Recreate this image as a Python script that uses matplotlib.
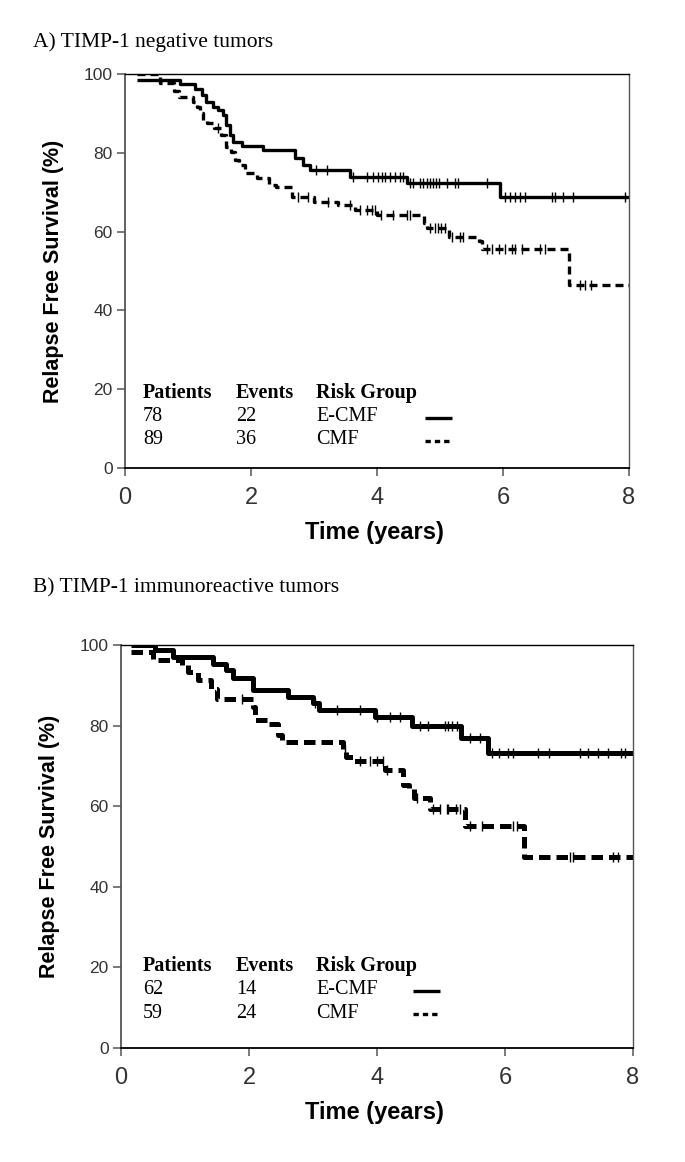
import numpy as np
import matplotlib
matplotlib.use("Agg")
import matplotlib.pyplot as plt

# Panel A: TIMP-1 negative tumors
a_ecmf_t = [0.19, 0.87, 1.11, 1.22, 1.29, 1.40, 1.48, 1.56, 1.61, 1.66, 1.72, 1.85, 2.19,
            2.70, 2.83, 2.94, 3.57, 4.47, 5.95]
a_ecmf_s = [98.5, 97.5, 96.1, 94.7, 93.0, 91.7, 90.9, 89.6, 87.0, 84.5, 82.8, 81.7, 80.7,
            78.7, 76.9, 75.6, 73.9, 72.3, 68.9]
a_ecmf_cens = [3.03, 3.21, 3.62, 3.84, 3.94, 4.02, 4.08, 4.13, 4.21, 4.29, 4.36, 4.42,
               4.52, 4.57, 4.68, 4.73, 4.79, 4.84, 4.89, 4.94, 4.98, 5.11, 5.24, 5.29, 5.75,
               6.03, 6.11, 6.19, 6.27, 6.35, 6.78, 6.83, 6.95, 7.11, 7.94]

a_cmf_t = [0.19, 0.55, 0.77, 0.85, 1.08, 1.14, 1.19, 1.24, 1.30, 1.42, 1.53, 1.61, 1.69,
           1.75, 1.81, 1.90, 2.10, 2.28, 2.40, 2.65, 3.00, 3.38, 3.65, 4.00, 4.74, 4.79,
           5.14, 5.62, 5.66, 7.04]
a_cmf_s = [100, 97.8, 95.6, 94.2, 93.0, 91.7, 90.0, 88.3, 87.6, 86.3, 84.5, 81.5, 80.3,
           78.2, 76.9, 74.8, 73.6, 71.8, 71.3, 68.9, 67.6, 66.8, 65.5, 64.2, 62.2, 60.9,
           58.7, 57.5, 55.5, 46.4]
a_cmf_cens = [1.48, 2.75, 2.91, 3.23, 3.57, 3.73, 3.84, 3.92, 3.97, 4.07, 4.26, 4.47, 4.52,
              4.84, 4.92, 4.97, 5.02, 5.08, 5.19, 5.32, 5.37, 5.74, 5.82, 5.93, 6.03, 6.14,
              6.19, 6.30, 6.59, 6.67, 7.22, 7.30, 7.40]

# Panel B: TIMP-1 immunoreactive tumors
b_ecmf_t = [0.15, 0.53, 0.82, 1.44, 1.64, 1.75, 2.07, 2.61, 3.00, 3.10, 3.97, 4.54, 5.32, 5.74]
b_ecmf_s = [100, 98.8, 96.9, 95.4, 93.8, 91.7, 88.8, 87.0, 85.5, 83.9, 82.2, 79.9, 76.9, 73.3]
b_ecmf_cens = [3.03, 3.37, 3.73, 4.00, 4.20, 4.36, 4.67, 4.80, 5.06, 5.11, 5.17, 5.25,
               5.45, 5.61, 5.79, 5.90, 6.05, 6.13, 6.52, 6.68, 7.17, 7.30, 7.46, 7.61,
               7.82, 7.88]

b_cmf_t = [0.15, 0.50, 0.95, 1.05, 1.20, 1.40, 1.50, 2.07, 2.10, 2.28, 2.45, 2.52, 3.47,
           3.52, 3.62, 4.12, 4.41, 4.50, 4.58, 4.83, 5.375, 6.30]
b_cmf_s = [98.3, 96.4, 95.0, 93.4, 91.3, 89.2, 86.5, 84.7, 81.4, 80.5, 77.7, 76.0, 74.0,
           72.3, 71.1, 69.0, 65.3, 64.5, 62.0, 59.2, 55.0, 47.5]
b_cmf_cens = [1.89, 3.50, 3.73, 3.89, 4.00, 4.10, 4.15, 4.62, 4.88, 4.98, 5.09, 5.11,
              5.24, 5.30, 5.45, 5.64, 6.13, 6.18, 7.02, 7.07, 7.69, 7.77]

titles = ["A) TIMP-1 negative tumors", "B) TIMP-1 immunoreactive tumors"]
patients = [["78", "89"], ["62", "59"]]
events = [["22", "36"], ["14", "24"]]
groups = ["E-CMF", "CMF"]
x_ticks = [0, 2, 4, 6, 8]
y_ticks = [0, 20, 40, 60, 80, 100]
t_max = 8

W, H = 685, 1162
fig = plt.figure(figsize=(W / 100, H / 100), dpi=100)

serif = "Liberation Serif"
sans = "Liberation Sans"


def fx(px):
    return px / W


def fy(py):
    return 1 - py / H


def km(ax, t, s, cens, lw, dashes=None):
    tt = list(t) + [t_max]
    ss = list(s) + [s[-1]]
    line, = ax.step(tt, ss, where="post", color="black", lw=lw, solid_capstyle="butt")
    if dashes is not None:
        line.set_dashes(dashes)
        line.set_dash_capstyle("butt")
    idx = np.searchsorted(t, cens, side="right") - 1
    ax.plot(cens, np.array(s)[idx], ls="none", marker="|", ms=6.5, mew=1.0, color="black")


# axes boxes in pixels: left, top, right, bottom
boxes = [(125, 74, 629, 468), (121, 645, 633, 1048)]
title_y = [42, 588]
table_y = [393, 966]
curves = [
    [(a_ecmf_t, a_ecmf_s, a_ecmf_cens), (a_cmf_t, a_cmf_s, a_cmf_cens)],
    [(b_ecmf_t, b_ecmf_s, b_ecmf_cens), (b_cmf_t, b_cmf_s, b_cmf_cens)],
]
line_w = [2.4, 3.6]
dash_pat = [(2.4, 1.5), (2.3, 1.2)]

for i in range(2):
    l, t, r, b = boxes[i]
    ax = fig.add_axes([fx(l), fy(b), fx(r - l), (b - t) / H])
    ax.set_xlim(0, t_max)
    ax.set_ylim(0, 100)

    (e_t, e_s, e_c), (c_t, c_s, c_c) = curves[i]
    km(ax, e_t, e_s, e_c, line_w[i])
    km(ax, c_t, c_s, c_c, line_w[i], dash_pat[i])

    ax.set_xticks(x_ticks)
    ax.set_yticks(y_ticks)
    ax.tick_params(axis="both", direction="out", length=6, width=1.1, color="#555555")
    ax.tick_params(axis="x", labelsize=17, pad=8, labelcolor="#333333")
    ax.tick_params(axis="y", labelsize=12.5, pad=3, labelcolor="#333333")
    for lab in ax.get_xticklabels() + ax.get_yticklabels():
        lab.set_fontfamily(sans)
    for side in ["left", "right"]:
        ax.spines[side].set_color("#555555")
    ax.spines["left"].set_linewidth(1.3)
    ax.spines["right"].set_linewidth(1.0)
    ax.spines["top"].set_linewidth(1.0)
    ax.spines["bottom"].set_linewidth(1.3)
    ax.spines["bottom"].set_zorder(5)

    # title above panel
    fig.text(fx(33), fy(title_y[i]), titles[i], fontfamily=serif, fontsize=15.5,
             ha="left", va="center")
    # axis labels
    fig.text(fx(l - 71), fy((t + b) / 2), "Relapse Free Survival (%)", fontfamily=sans,
             fontweight="bold", fontsize=15.5, rotation=90, ha="center", va="center")
    fig.text(fx(374), fy(b + 65), "Time (years)", fontfamily=sans, fontweight="bold",
             fontsize=17, ha="center", va="center")

    # risk table inside the axes
    hy = table_y[i]
    rows = [hy + 24, hy + 47]
    fig.text(fx(143), fy(hy), "Patients", fontfamily=serif, fontweight="bold",
             fontsize=14.5, va="center")
    fig.text(fx(236), fy(hy), "Events", fontfamily=serif, fontweight="bold",
             fontsize=14.5, va="center")
    fig.text(fx(316), fy(hy), "Risk Group", fontfamily=serif, fontweight="bold",
             fontsize=14.5, va="center")
    for j in range(2):
        fig.text(fx(143), fy(rows[j]), patients[i][j], fontfamily=serif, fontsize=14.5,
                 va="center")
        fig.text(fx(236), fy(rows[j]), events[i][j], fontfamily=serif, fontsize=14.5,
                 va="center")
        fig.text(fx(316), fy(rows[j]), groups[j], fontfamily=serif, fontsize=14.5,
                 va="center")
    x0, x1 = (425, 452) if i == 0 else (413, 440)
    fig.add_artist(plt.Line2D([fx(x0), fx(x1)], [fy(rows[0] + 1)] * 2, color="black",
                              lw=2.4, solid_capstyle="butt"))
    ld = plt.Line2D([fx(x0), fx(x1)], [fy(rows[1] + 1)] * 2, color="black", lw=2.4)
    ld.set_dashes((1.6, 1.2))
    ld.set_dash_capstyle("butt")
    fig.add_artist(ld)

fig.savefig("out.png", dpi=100)
